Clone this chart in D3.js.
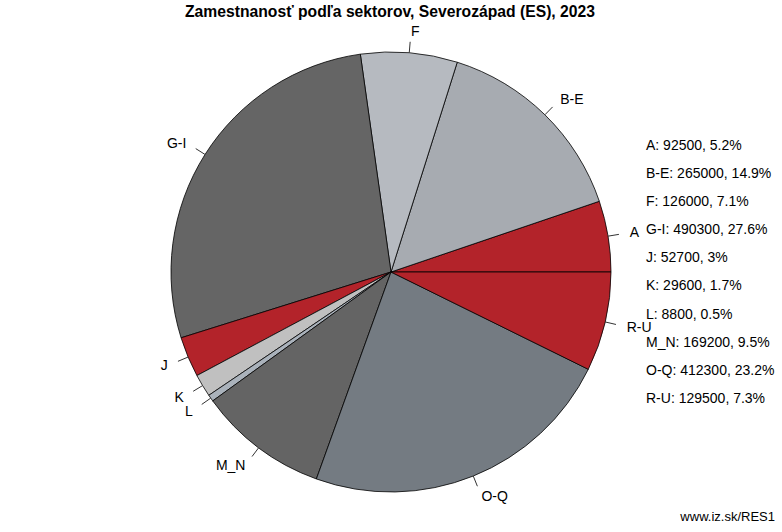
<!DOCTYPE html>
<html><head><meta charset="utf-8">
<script src="https://cdn.jsdelivr.net/npm/d3@7"></script>
<style>body{margin:0;background:#fff}svg{display:block;font-family:"Liberation Sans",Arial,sans-serif}</style>
</head><body>
<svg id="c" width="782" height="532"></svg>
<script>
const title = "Zamestnanosť podľa sektorov, Severozápad (ES), 2023";
const categories = ["A","B-E","F","G-I","J","K","L","M_N","O-Q","R-U"];
const values = [92500,265000,126000,490300,52700,29600,8800,169200,412300,129500];
const percents = ["5.2%","14.9%","7.1%","27.6%","3%","1.7%","0.5%","9.5%","23.2%","7.3%"];
const colors = ["#b3232a","#a7abb1","#b6bac0","#656565","#b3232a","#c0c0c0","#aab2bb","#646464","#747b82","#b3232a"];
const footer = "www.iz.sk/RES1";

const svg = d3.select("#c");
const cx = 391, cy = 272, r = 220;

svg.append("text").attr("x", 390).attr("y", 17).attr("text-anchor","middle")
  .attr("font-weight","bold").attr("font-size","15.7px").text(title);

const data = categories.map((c,i)=>({cat:c, v:values[i], col:colors[i], pct:percents[i]}));
const pie = d3.pie().value(d=>d.v).sort(null)
  .startAngle(Math.PI/2).endAngle(Math.PI/2 - 2*Math.PI);
const arcs = pie(data);
const arc = d3.arc().innerRadius(0).outerRadius(r);

const g = svg.append("g").attr("transform",`translate(${cx},${cy})`);
g.selectAll("path").data(arcs).join("path")
  .attr("d", arc).attr("fill", d=>d.data.col)
  .attr("stroke","#000").attr("stroke-width",0.8).attr("stroke-linejoin","round");

arcs.forEach(a=>{
  const m = (a.startAngle + a.endAngle)/2;
  const sx = Math.sin(m), sy = -Math.cos(m);
  g.append("line").attr("x1", r*sx).attr("y1", r*sy)
    .attr("x2", 1.05*r*sx).attr("y2", 1.05*r*sy)
    .attr("stroke","#333").attr("stroke-width",1);
  g.append("text").attr("x", 1.1*r*sx).attr("y", 1.1*r*sy)
    .attr("dy","0.35em").attr("font-size","14px")
    .attr("text-anchor", sx >= 0 ? "start" : "end")
    .text(a.data.cat);
});

const ly = d3.scalePoint().domain(categories).range([145, 398]);
svg.append("g").selectAll("text").data(data).join("text")
  .attr("x", 646).attr("y", d=>ly(d.cat)).attr("dy","0.35em")
  .attr("font-size","14px")
  .text(d=>`${d.cat}: ${d.v}, ${d.pct}`);

svg.append("text").attr("x", 775).attr("y", 521).attr("text-anchor","end")
  .attr("font-size","13px").text(footer);
</script>
</body></html>
